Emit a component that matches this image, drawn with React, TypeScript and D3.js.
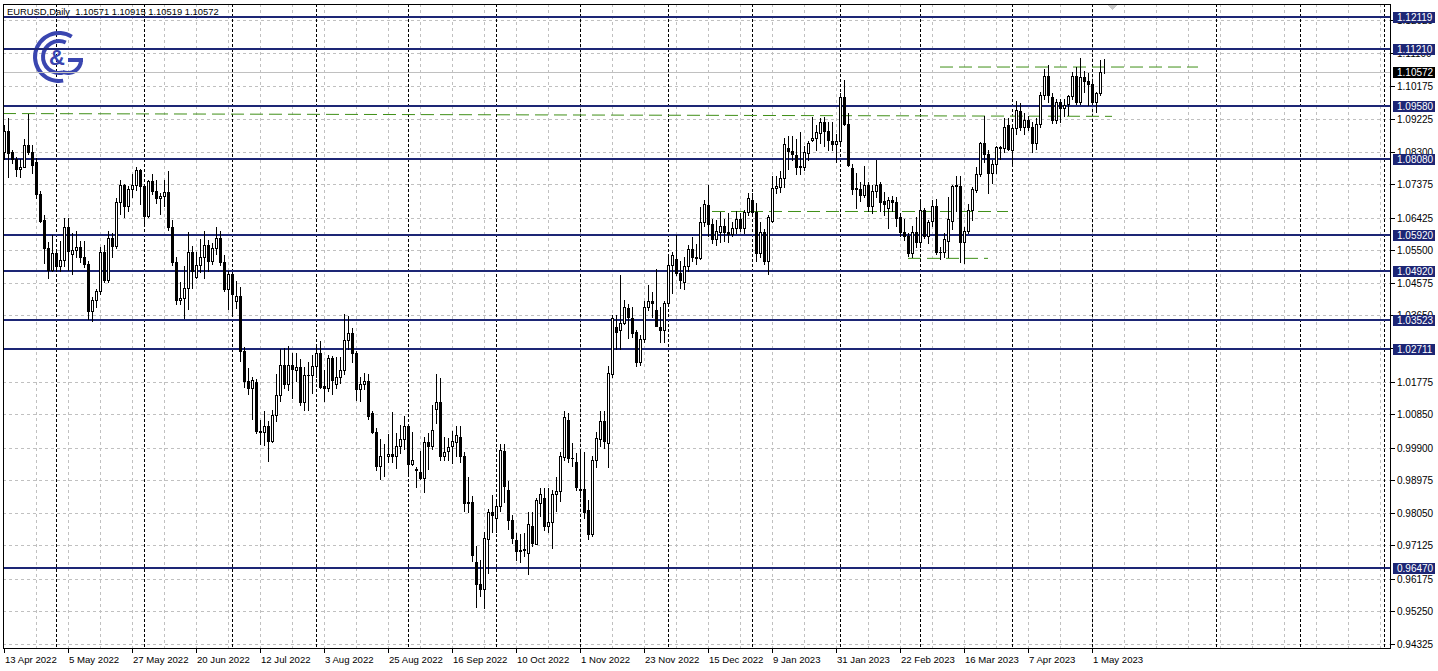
import React from 'react';
import * as d3 from 'd3';

const W = 1438;
const H = 671;

// OHLC, one value per trading day, 13 Apr 2022 .. 4 May 2023
const open = [
1.0828,1.0889,1.0830,1.0808,1.0780,1.0787,1.0849,1.0830,1.0800,1.0709,1.0636,1.0555,1.0495,1.0543,1.0505,1.0522,1.0617,1.0540,1.0550,1.0560,
1.0530,1.0512,1.0377,1.0410,1.0434,1.0545,1.0465,1.0585,1.0562,1.0688,1.0735,1.0675,1.0725,1.0735,1.0778,1.0733,1.0648,1.0746,1.0718,1.0698,
1.0705,1.0715,1.0615,1.0518,1.0408,1.0414,1.0443,1.0545,1.0475,1.0508,1.0530,1.0565,1.0520,1.0555,1.0585,1.0518,1.0440,1.0482,1.0405,1.0420,
1.0263,1.0180,1.0160,1.0175,1.0038,1.0035,1.0050,1.0010,1.0082,1.0138,1.0225,1.0170,1.0223,1.0210,1.0220,1.0118,1.0196,1.0195,1.0222,1.0257,
1.0165,1.0160,1.0245,1.0170,1.0190,1.0210,1.0296,1.0315,1.0257,1.0155,1.0170,1.0180,1.0087,1.0035,0.9937,0.9965,0.9965,0.9973,0.9965,0.9995,
1.0015,1.0050,0.9942,0.9925,0.9920,0.9905,1.0005,0.9995,1.0100,1.0120,0.9965,0.9980,0.9995,1.0005,1.0020,0.9965,0.9833,0.9836,0.9666,0.9604,
0.9588,0.9730,0.9808,0.9790,0.9823,0.9980,0.9870,0.9785,0.9728,0.9697,0.9700,0.9691,0.9768,0.9717,0.9833,0.9848,0.9768,0.9780,0.9859,0.9867,
0.9963,1.0068,0.9961,0.9949,0.9873,0.9873,0.9814,0.9746,0.9955,1.0015,1.0066,1.0004,1.0199,1.0333,1.0324,1.0344,1.0386,1.0358,1.0319,1.0234,
1.0299,1.0390,1.0407,1.0380,1.0333,1.0324,1.0401,1.0509,1.0526,1.0485,1.0460,1.0505,1.0554,1.0530,1.0528,1.0630,1.0678,1.0625,1.0582,1.0603,
1.0620,1.0602,1.0595,1.0612,1.0640,1.0612,1.0659,1.0692,1.0659,1.0543,1.0602,1.0519,1.0633,1.0727,1.0730,1.0755,1.0840,1.0831,1.0820,1.0786,
1.0786,1.0826,1.0863,1.0869,1.0883,1.0914,1.0889,1.0860,1.0851,1.0860,1.0985,1.0908,1.0783,1.0724,1.0724,1.0707,1.0735,1.0676,1.0718,1.0738,
1.0690,1.0670,1.0693,1.0687,1.0644,1.0602,1.0590,1.0543,1.0602,1.0573,1.0665,1.0590,1.0633,1.0676,1.0546,1.0545,1.0576,1.0633,1.0731,1.0733,
1.0573,1.0605,1.0664,1.0721,1.0766,1.0855,1.0823,1.0770,1.0795,1.0841,1.0841,1.0905,1.0835,1.0897,1.0945,1.0900,1.0920,1.0900,1.0855,1.0908,
1.0991,1.1045,1.0985,1.0920,1.0971,1.0955,1.0965,1.0988,1.1045,1.0970,1.1042,1.1030,1.1022,1.0970,1.0996,1.10571
];
const high = [
1.0905,1.0924,1.0835,1.0815,1.0810,1.0866,1.0936,1.0850,1.0811,1.0719,1.0650,1.0572,1.0593,1.0550,1.0575,1.0642,1.0641,1.0600,1.0606,1.0575,
1.0577,1.0520,1.0418,1.0440,1.0560,1.0564,1.0606,1.0600,1.0697,1.0748,1.0738,1.0733,1.0765,1.0786,1.0780,1.0738,1.0750,1.0765,1.0750,1.0712,
1.0748,1.0774,1.0637,1.0532,1.0460,1.0506,1.0601,1.0563,1.0545,1.0583,1.0606,1.0580,1.0570,1.0615,1.0606,1.0536,1.0490,1.0488,1.0464,1.0446,
1.0275,1.0215,1.0191,1.0185,1.0068,1.0093,1.0065,1.0096,1.0200,1.0269,1.0273,1.0278,1.0257,1.0258,1.0240,1.0218,1.0234,1.0254,1.0274,1.0293,
1.0210,1.0254,1.0250,1.0248,1.0246,1.0368,1.0364,1.0330,1.0265,1.0190,1.0202,1.0200,1.0093,1.0045,1.0015,0.9999,1.0028,1.0090,1.0030,1.0055,
1.0080,1.0055,1.0033,0.9935,0.9980,1.0020,1.0030,1.0112,1.0198,1.0187,1.0020,1.0017,1.0037,1.0050,1.0050,0.9976,0.9906,0.9853,0.9710,0.9670,
0.9750,0.9815,0.9854,0.9840,0.9999,0.9999,0.9895,0.9800,0.9748,0.9745,0.9748,0.9806,0.9807,0.9848,0.9875,0.9875,0.9875,0.9870,0.9907,0.9977,
1.0094,1.0088,1.0002,0.9975,0.9976,0.9977,0.9842,0.9965,1.0033,1.0094,1.0095,1.0222,1.0365,1.0366,1.0480,1.0410,1.0398,1.0390,1.0325,1.0310,
1.0407,1.0450,1.0432,1.0497,1.0388,1.0406,1.0530,1.0545,1.0594,1.0520,1.0530,1.0565,1.0588,1.0568,1.0673,1.0694,1.0736,1.0640,1.0635,1.0658,
1.0638,1.0655,1.0630,1.0660,1.0657,1.0665,1.0713,1.0712,1.0683,1.0630,1.0610,1.0650,1.0760,1.0760,1.0776,1.0868,1.0875,1.0874,1.0865,1.0887,
1.0845,1.0860,1.0927,1.0905,1.0925,1.0929,1.0915,1.0915,1.0880,1.0995,1.1033,1.0939,1.0795,1.0770,1.0745,1.0790,1.0745,1.0735,1.0805,1.0745,
1.0715,1.0700,1.0705,1.0700,1.0655,1.0638,1.0600,1.0620,1.0645,1.0690,1.0670,1.0635,1.0694,1.0695,1.0560,1.0600,1.0700,1.0736,1.0760,1.0760,
1.0617,1.0680,1.0730,1.0787,1.0858,1.0930,1.0835,1.0805,1.0845,1.0845,1.0925,1.0925,1.0905,1.0973,1.0968,1.0940,1.0930,1.0915,1.0925,1.0998,
1.1065,1.1075,1.0995,1.0980,1.0980,1.0980,1.0990,1.1055,1.1070,1.1095,1.1060,1.1052,1.1030,1.1000,1.1091,1.10915
];
const low = [
1.0810,1.0757,1.0798,1.0762,1.0758,1.0787,1.0822,1.0769,1.0697,1.0630,1.0515,1.0470,1.0490,1.0490,1.0492,1.0505,1.0494,1.0483,1.0530,1.0516,
1.0503,1.0354,1.0350,1.0389,1.0425,1.0460,1.0460,1.0532,1.0555,1.0653,1.0645,1.0662,1.0701,1.0720,1.0680,1.0627,1.0645,1.0709,1.0685,1.0653,
1.0675,1.0608,1.0507,1.0398,1.0397,1.0359,1.0382,1.0444,1.0470,1.0487,1.0470,1.0490,1.0510,1.0540,1.0508,1.0435,1.0382,1.0365,1.0387,1.0235,
1.0161,1.0143,1.0072,1.0030,0.9999,0.9998,0.9952,1.0005,1.0065,1.0122,1.0160,1.0153,1.0130,1.0180,1.0110,1.0098,1.0097,1.0145,1.0190,1.0160,
1.0123,1.0150,1.0141,1.0160,1.0174,1.0200,1.0270,1.0234,1.0124,1.0122,1.0155,1.0070,1.0032,0.9926,0.9900,0.9910,0.9950,0.9950,0.9933,0.9975,
0.9985,0.9910,0.9940,0.9877,0.9900,0.9864,0.9930,0.9985,1.0060,0.9955,0.9955,0.9955,0.9945,0.9966,0.9950,0.9810,0.9807,0.9667,0.9538,0.9570,
0.9535,0.9635,0.9750,0.9750,0.9810,0.9835,0.9760,0.9720,0.9671,0.9665,0.9683,0.9632,0.9712,0.9715,0.9796,0.9755,0.9750,0.9705,0.9810,0.9838,
0.9955,0.9950,0.9937,0.9870,0.9850,0.9790,0.9730,0.9740,0.9935,0.9995,0.9990,0.9935,1.0190,1.0270,1.0270,1.0340,1.0300,1.0304,1.0222,1.0225,
1.0290,1.0380,1.0360,1.0340,1.0290,1.0290,1.0400,1.0430,1.0480,1.0443,1.0440,1.0490,1.0520,1.0510,1.0525,1.0620,1.0590,1.0571,1.0565,1.0572,
1.0575,1.0573,1.0590,1.0600,1.0605,1.0600,1.0650,1.0650,1.0520,1.0530,1.0510,1.0483,1.0630,1.0712,1.0715,1.0730,1.0780,1.0805,1.0766,1.0766,
1.0777,1.0805,1.0860,1.0835,1.0855,1.0845,1.0835,1.0835,1.0800,1.0850,1.0905,1.0790,1.0710,1.0670,1.0690,1.0700,1.0660,1.0655,1.0700,1.0660,
1.0650,1.0613,1.0660,1.0620,1.0590,1.0578,1.0533,1.0530,1.0560,1.0560,1.0585,1.0570,1.0620,1.0540,1.0525,1.0530,1.0530,1.0610,1.0660,1.0516,
1.0515,1.0600,1.0635,1.0715,1.0760,1.0800,1.0713,1.0740,1.0770,1.0810,1.0830,1.0835,1.0788,1.0880,1.0890,1.0880,1.0890,1.0830,1.0836,1.0900,
1.0980,1.0970,1.0910,1.0910,1.0915,1.0930,1.0935,1.0980,1.0965,1.0965,1.1000,1.0962,1.0965,1.0942,1.0990,1.10519
];
const close = [
1.0889,1.0827,1.0808,1.0780,1.0787,1.0849,1.0830,1.0792,1.0709,1.0634,1.0555,1.0495,1.0543,1.0505,1.0522,1.0617,1.0548,1.0550,1.0560,1.0530,
1.0512,1.0377,1.0410,1.0434,1.0545,1.0465,1.0585,1.0562,1.0688,1.0735,1.0675,1.0725,1.0735,1.0778,1.0733,1.0648,1.0746,1.0718,1.0698,1.0705,
1.0715,1.0615,1.0518,1.0408,1.0414,1.0443,1.0545,1.0492,1.0508,1.0530,1.0565,1.0520,1.0555,1.0585,1.0518,1.0440,1.0482,1.0425,1.0420,1.0263,
1.0180,1.0160,1.0182,1.0038,1.0035,1.0050,1.0010,1.0082,1.0138,1.0225,1.0170,1.0223,1.0212,1.0220,1.0118,1.0196,1.0195,1.0222,1.0257,1.0162,
1.0160,1.0245,1.0183,1.0190,1.0210,1.0296,1.0315,1.0257,1.0155,1.0170,1.0180,1.0080,1.0035,0.9937,0.9965,0.9965,0.9973,0.9965,0.9995,1.0015,
1.0050,0.9942,0.9955,0.9930,0.9905,1.0005,0.9995,1.0040,1.0120,0.9965,0.9978,0.9992,1.0010,1.0025,0.9965,0.9833,0.9836,0.9685,0.9603,0.9588,
0.9734,0.9808,0.9800,0.9823,0.9983,0.9881,0.9785,0.9734,0.9697,0.9700,0.9702,0.9774,0.9720,0.9842,0.9859,0.9768,0.9780,0.9859,0.9867,0.9966,
1.0077,0.9960,0.9960,0.9878,0.9870,0.9808,0.9746,0.9955,1.0018,1.0066,1.0010,1.0202,1.0358,1.0319,1.0344,1.0390,1.0361,1.0316,1.0234,1.0299,
1.0390,1.0407,1.0400,1.0335,1.0325,1.0401,1.0509,1.0537,1.0485,1.0465,1.0505,1.0554,1.0532,1.0528,1.0630,1.0681,1.0625,1.0582,1.0605,1.0620,
1.0602,1.0595,1.0612,1.0640,1.0612,1.0659,1.0698,1.0659,1.0543,1.0602,1.0519,1.0643,1.0727,1.0733,1.0755,1.0852,1.0831,1.0822,1.0786,1.0790,
1.0829,1.0855,1.0869,1.0886,1.0914,1.0889,1.0863,1.0851,1.0860,1.0985,1.0908,1.0792,1.0724,1.0726,1.0707,1.0735,1.0676,1.0718,1.0735,1.0687,
1.0680,1.0693,1.0687,1.0641,1.0602,1.0590,1.0543,1.0602,1.0573,1.0665,1.0590,1.0630,1.0676,1.0545,1.0545,1.0582,1.0639,1.0733,1.0734,1.0573,
1.0605,1.0664,1.0724,1.0767,1.0855,1.0823,1.0770,1.0795,1.0843,1.0843,1.0900,1.0837,1.0897,1.0948,1.0900,1.0920,1.0900,1.0855,1.0908,1.0991,
1.1045,1.0991,1.0920,1.0971,1.0955,1.0963,1.0988,1.1045,1.0970,1.1042,1.1030,1.1022,1.0970,1.0996,1.1056,1.10572
];

const priceTicks = [1.12025,1.11100,1.10175,1.09225,1.08300,1.07375,1.06425,1.05500,1.04575,1.03650,1.02725,1.01775,1.00850,0.99900,0.98975,0.98050,0.97125,0.96175,0.95250,0.94325];
const levels = [1.12119,1.11210,1.09580,1.08080,1.05920,1.04920,1.03523,1.02711,0.96470];
const dateLabels = ['13 Apr 2022','5 May 2022','27 May 2022','20 Jun 2022','12 Jul 2022','3 Aug 2022','25 Aug 2022','16 Sep 2022','10 Oct 2022','1 Nov 2022','23 Nov 2022','15 Dec 2022','9 Jan 2023','31 Jan 2023','22 Feb 2023','16 Mar 2023','7 Apr 2023','1 May 2023'];
const dateLabelStep = 16;
const gridStep = 8;
const monthStartBars = [13,35,57,78,101,123,144,166,187,209,229,252,272,303,324,345];
const lastPrice = 1.10572;
const header = 'EURUSD,Daily  1.10571 1.10915 1.10519 1.10572';
// trend lines: [startBar, startPrice, endBar, endPrice]
const trendLines: [number, number, number, number][] = [
  [-0.25, 1.0938, 277, 1.0930],
  [234, 1.1070, 298.5, 1.1070],
  [177, 1.0660, 251, 1.0660],
  [226, 1.0527, 246, 1.0527],
];

const LEFT = 3, TOP = 4, RIGHT = 1390, BOTTOM = 648;
const NAVY = '#1d2675';
const GREEN = '#3f8f17';
const GRID = '#c0c0c0';
const FONT = '"Liberation Sans", Arial, sans-serif';

export default function App() {
  const n = close.length;
  const x = d3.scaleLinear().domain([0, n - 1]).range([4, 4 + 4 * (n - 1)]);
  const y = d3.scaleLinear().domain([0.94325, 1.09225]).range([644, 119]);
  const px = (v: number) => Math.round(x(v));
  const py = (v: number) => Math.round(y(v));

  const maxBar = Math.floor(x.invert(RIGHT));
  const gridBars = d3.range(gridStep, maxBar + 1, gridStep);
  const labelBars = dateLabels.map((_, k) => k * dateLabelStep);

  const arc = d3.arc();
  const logoC = { cx: 59, cy: 57 };
  const outer = arc({ innerRadius: 22, outerRadius: 26, startAngle: (170 * Math.PI) / 180, endAngle: (392 * Math.PI) / 180 }) as string;
  const inner = arc({ innerRadius: 14, outerRadius: 18, startAngle: (165 * Math.PI) / 180, endAngle: (385 * Math.PI) / 180 }) as string;
  const gArc = arc({ innerRadius: 11, outerRadius: 15, startAngle: (90 * Math.PI) / 180, endAngle: (205 * Math.PI) / 180 }) as string;

  return (
    <svg width={W} height={H} style={{ position: 'absolute', left: 0, top: 0, background: '#fff' }} shapeRendering="crispEdges">
      <rect x={0} y={0} width={W} height={H} fill="#fff" />
      {/* horizontal grid */}
      {priceTicks.map((p) => (
        <line key={'hg' + p} x1={LEFT} x2={RIGHT} y1={py(p) + 0.5} y2={py(p) + 0.5} stroke={GRID} strokeDasharray="3,3" />
      ))}
      {/* vertical grid */}
      {gridBars.map((b) => (
        <line key={'vg' + b} x1={px(b) + 0.5} x2={px(b) + 0.5} y1={TOP} y2={BOTTOM} stroke={GRID} strokeDasharray="3,3" />
      ))}
      {/* period separators */}
      {monthStartBars.filter((b) => x(b) < RIGHT).map((b) => (
        <line key={'ms' + b} x1={px(b) + 0.5} x2={px(b) + 0.5} y1={TOP} y2={BOTTOM} stroke="#000" strokeDasharray="3,2" />
      ))}
      {/* logo */}
      <g fill="#3a46b0" transform={`translate(${logoC.cx},${logoC.cy})`} shapeRendering="geometricPrecision">
        <path d={outer} />
        <path d={inner} />
        <g transform="translate(9,3)">
          <path d={gArc} />
        </g>
        <rect x={9} y={1} width={15} height={4} />
        <text x={-2} y={8} fontFamily={FONT} fontWeight="bold" fontSize={22} textAnchor="middle" fill="#3a46b0">&amp;</text>
      </g>
      {/* current price line */}
      <line x1={LEFT} x2={RIGHT} y1={py(lastPrice) + 0.5} y2={py(lastPrice) + 0.5} stroke={GRID} />
      {/* levels */}
      {levels.map((p) => (
        <line key={'lv' + p} x1={LEFT} x2={RIGHT} y1={y(p)} y2={y(p)} stroke={NAVY} strokeWidth={2} />
      ))}
      {/* trend lines */}
      {trendLines.map((t, k) => (
        <line key={'tl' + k} x1={x(t[0])} y1={y(t[1])} x2={x(t[2])} y2={y(t[3])} stroke={GREEN} strokeWidth={1} strokeDasharray="13,6" shapeRendering="geometricPrecision" />
      ))}
      {/* candles */}
      <g>
        {close.map((c, i) => {
          const o = open[i];
          const cx = px(i);
          const yH = py(high[i]);
          const yL = py(low[i]);
          const yT = py(Math.max(o, c));
          const yB = py(Math.min(o, c));
          const bull = c >= o;
          return (
            <g key={'c' + i}>
              <line x1={cx + 0.5} x2={cx + 0.5} y1={yH} y2={yL + 1} stroke="#000" />
              {bull ? (
                <rect x={cx - 0.5} y={yT + 0.5} width={2} height={Math.max(0, yB - yT)} fill="#fff" stroke="#000" />
              ) : (
                <rect x={cx - 1} y={yT} width={3} height={Math.max(1, yB - yT + 1)} fill="#000" />
              )}
            </g>
          );
        })}
      </g>
      {/* chart shift marker */}
      <path d={`M${px(n + 1) - 4},${TOP + 1} L${px(n + 1) + 5},${TOP + 1} L${px(n + 1) + 0.5},${TOP + 6} Z`} fill="#c8c8c8" />
      {/* frame */}
      <line x1={LEFT + 0.5} x2={LEFT + 0.5} y1={TOP} y2={BOTTOM} stroke="#000" />
      <line x1={LEFT} x2={RIGHT} y1={TOP + 0.5} y2={TOP + 0.5} stroke="#000" />
      <line x1={RIGHT + 0.5} x2={RIGHT + 0.5} y1={TOP} y2={BOTTOM + 1} stroke="#000" />
      <line x1={LEFT} x2={RIGHT + 1} y1={BOTTOM + 0.5} y2={BOTTOM + 0.5} stroke="#000" />
      {/* header */}
      <text x={7} y={15} fontFamily={FONT} fontSize={9.4} fill="#000" style={{ whiteSpace: 'pre' }}>{header}</text>
      {/* price axis */}
      {priceTicks.map((p) => (
        <g key={'pt' + p}>
          <line x1={RIGHT + 1} x2={RIGHT + 5} y1={py(p) + 0.5} y2={py(p) + 0.5} stroke="#000" />
          <text x={1397} y={py(p) + 4} fontFamily={FONT} fontSize={10} fill="#000">{p.toFixed(5)}</text>
        </g>
      ))}
      {levels.map((p) => (
        <g key={'lb' + p}>
          <rect x={1393} y={py(p) - 5} width={42} height={11} fill={NAVY} />
          <text x={1397} y={py(p) + 4} fontFamily={FONT} fontSize={10} fill="#fff">{p.toFixed(5)}</text>
        </g>
      ))}
      <rect x={1393} y={py(lastPrice) - 5} width={42} height={11} fill="#000" />
      <text x={1397} y={py(lastPrice) + 4} fontFamily={FONT} fontSize={10} fill="#fff">{lastPrice.toFixed(5)}</text>
      {/* time axis */}
      {labelBars.map((b, k) => (
        <g key={'dl' + k}>
          <line x1={px(b) + 0.5} x2={px(b) + 0.5} y1={BOTTOM} y2={BOTTOM + 5} stroke="#000" />
          <text x={px(b) + 1} y={663} fontFamily={FONT} fontSize={9.6} fill="#000">{dateLabels[k]}</text>
        </g>
      ))}
    </svg>
  );
}
